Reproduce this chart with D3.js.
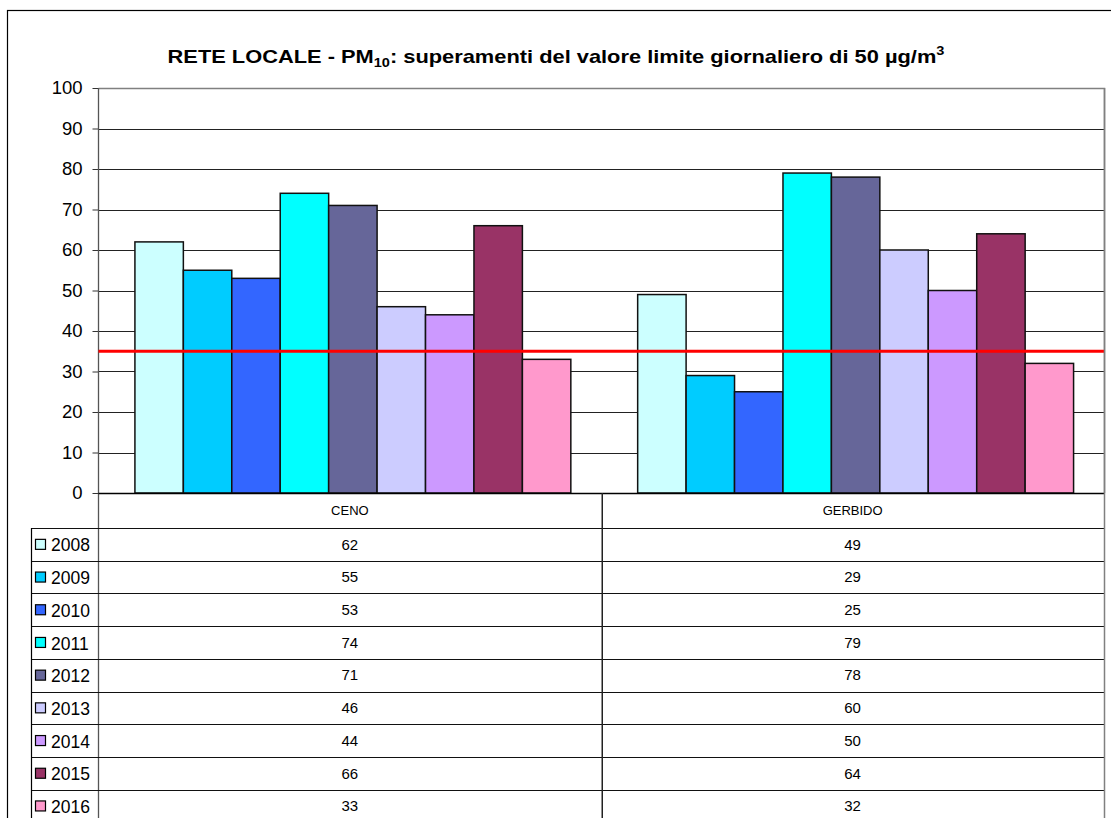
<!DOCTYPE html>
<html><head><meta charset="utf-8">
<script src="https://cdn.jsdelivr.net/npm/d3@7/dist/d3.min.js"></script>
<style>body{margin:0;background:#fff}svg{display:block;font-family:"Liberation Sans",Arial,sans-serif}</style>
</head><body>
<svg id="c" width="1111" height="818"></svg>
<script>
const categories = ["CENO", "GERBIDO"];
const years = ["2008","2009","2010","2011","2012","2013","2014","2015","2016"];
const ceno =    [62, 55, 53, 74, 71, 46, 44, 66, 33];
const gerbido = [49, 29, 25, 79, 78, 60, 50, 64, 32];
const colors = ["#CCFFFF","#00CCFF","#3366FF","#00FFFF","#666699","#CCCCFF","#CC99FF","#993366","#FF99CC"];
const yTicks = [0,10,20,30,40,50,60,70,80,90,100];
const limitValue = 35;

const values = {CENO: ceno, GERBIDO: gerbido};
const svg = d3.select("#c");
const L = 98.5, R = 1104, T = 88, B = 493;
const rowTop = 528, rowH = 32.7, tableLeft = 31.5;

// outer border
svg.append("rect").attr("x",7.5).attr("y",10.5).attr("width",1200).attr("height",900)
  .attr("fill","none").attr("stroke","#000").attr("stroke-width",1.2);

const y = d3.scaleLinear().domain([0,100]).range([B,T]);
const x0 = d3.scaleBand().domain(categories).range([L,R]).padding(0);
const x1 = d3.scaleBand().domain(years).range([3,x0.bandwidth()+3]).paddingInner(0).paddingOuter(0.69);

// gridlines
svg.append("g").selectAll("line").data(yTicks.filter(d=>d>0)).join("line")
  .attr("x1",L).attr("x2",R).attr("y1",d=>Math.round(y(d))+0.5).attr("y2",d=>Math.round(y(d))+0.5)
  .attr("stroke","#222").attr("stroke-width",1);

// plot border (right/top gray)
svg.append("path").attr("d",`M${L},${T+0.5}H${R+0.5}V${B}`).attr("fill","none").attr("stroke","#808080").attr("stroke-width",1.5);

// bars
const g = svg.append("g");
categories.forEach(c=>{
  g.append("g").attr("transform",`translate(${x0(c)},0)`)
   .selectAll("rect").data(years.map((yr,i)=>({yr,v:values[c][i],col:colors[i]}))).join("rect")
   .attr("x",d=>x1(d.yr)).attr("width",x1.bandwidth())
   .attr("y",d=>y(d.v)).attr("height",d=>y(0)-y(d.v))
   .attr("fill",d=>d.col).attr("stroke","#111").attr("stroke-width",1.5);
});

// y axis
const yAxis = d3.axisLeft(y).tickValues(yTicks).tickSize(6).tickPadding(10);
const ga = svg.append("g").attr("transform",`translate(${L},0)`).call(yAxis);
ga.select(".domain").remove();
ga.selectAll(".tick line").attr("stroke","#333");
ga.selectAll(".tick text").attr("font-size",18.5).attr("fill","#000").attr("font-family","Liberation Sans, Arial, sans-serif");
svg.append("line").attr("x1",L).attr("x2",L).attr("y1",T).attr("y2",830).attr("stroke","#555").attr("stroke-width",1.3);

// limit line
svg.append("line").attr("x1",L).attr("x2",R).attr("y1",y(limitValue)).attr("y2",y(limitValue))
  .attr("stroke","#FF0000").attr("stroke-width",3);

// x axis baseline
svg.append("line").attr("x1",L).attr("x2",R).attr("y1",B+0.5).attr("y2",B+0.5).attr("stroke","#000").attr("stroke-width",1.5);

// table
const tb = svg.append("g");
const hl = d3.range(years.length+1).map(i=>rowTop+i*rowH);
tb.selectAll("line.h").data(hl).join("line").attr("class","h")
  .attr("x1",tableLeft).attr("x2",R).attr("y1",d=>Math.round(d)+0.5).attr("y2",d=>Math.round(d)+0.5)
  .attr("stroke","#111").attr("stroke-width",1.2);
tb.append("line").attr("x1",tableLeft).attr("x2",tableLeft).attr("y1",rowTop).attr("y2",830).attr("stroke","#000").attr("stroke-width",1.2);
tb.append("line").attr("x1",x0("GERBIDO")+1).attr("x2",x0("GERBIDO")+1).attr("y1",B).attr("y2",830).attr("stroke","#222").attr("stroke-width",1.5);
tb.append("line").attr("x1",R+0.5).attr("x2",R+0.5).attr("y1",T).attr("y2",830).attr("stroke","#808080").attr("stroke-width",1.5);

tb.selectAll("text.cat").data(categories).join("text").attr("class","cat")
  .attr("x",d=>x0(d)+x0.bandwidth()/2).attr("y",(B+rowTop)/2).attr("dy","0.35em")
  .attr("text-anchor","middle").attr("font-size",13).text(d=>d);

years.forEach((yr,i)=>{
  const cy = rowTop + i*rowH + rowH/2;
  tb.append("rect").attr("x",35.5).attr("y",cy-5).attr("width",10).attr("height",10)
    .attr("fill",colors[i]).attr("stroke","#000").attr("stroke-width",1.2);
  tb.append("text").attr("x",51).attr("y",cy+1).attr("dy","0.35em").attr("font-size",17.5).text(yr);
  categories.forEach(c=>{
    tb.append("text").attr("x",x0(c)+x0.bandwidth()/2).attr("y",cy).attr("dy","0.35em")
      .attr("text-anchor","middle").attr("font-size",15).text(values[c][i]);
  });
});

// title
const tg = svg.append("g");
const title = tg.append("text").attr("x",0).attr("y",0).attr("text-anchor","middle")
  .attr("font-size",18).attr("font-weight","bold");
title.append("tspan").text("RETE LOCALE - PM");
title.append("tspan").attr("font-size",12).attr("dy",4).text("10");
title.append("tspan").attr("dy",-4).text(": superamenti del valore limite giornaliero di 50 µg/m");
title.append("tspan").attr("font-size",12).attr("dy",-8).text("3");
const tw = title.node().getBBox().width;
tg.attr("transform",`translate(556,63) scale(${778/tw},1)`);
</script>
</body></html>
